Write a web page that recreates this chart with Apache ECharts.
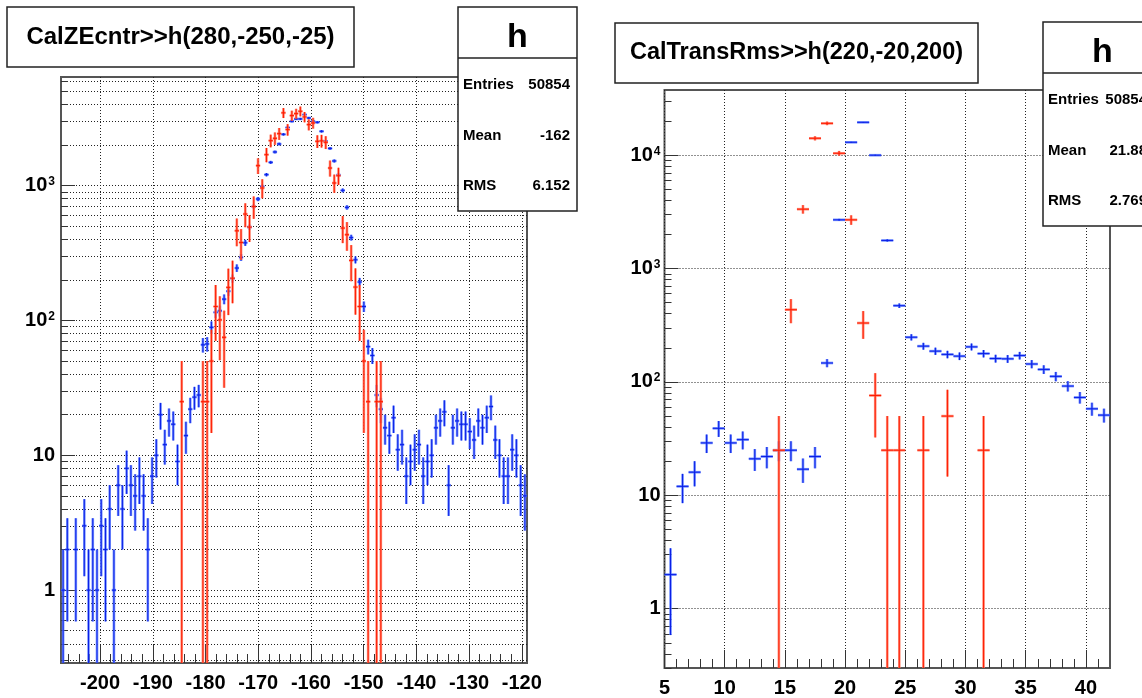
<!DOCTYPE html>
<html><head><meta charset="utf-8">
<script src="https://cdn.jsdelivr.net/npm/echarts@6/dist/echarts.min.js"></script>
<style>html,body{margin:0;padding:0;background:#fff}#c{width:1142px;height:698px}</style>
</head><body><div id="c"></div>
<script>
// ---------- data ----------
const leftBlueX = [-207.01,-206.21,-204.60,-202.99,-202.19,-201.38,-200.58,-199.78,-198.97,-198.17,-197.37,-196.56,-195.76,-194.96,-194.15,-193.35,-192.54,-191.74,-190.94,-190.13,-189.33,-188.53,-187.72,-186.92,-186.12,-185.31,-183.71,-182.90,-182.10,-181.29,-180.49,-179.69,-178.88,-178.08,-177.28,-176.47,-175.67,-174.87,-174.06,-173.26,-172.46,-171.65,-170.85,-170.04,-169.24,-168.44,-167.63,-166.83,-166.03,-165.22,-164.42,-163.62,-162.81,-162.01,-161.21,-160.40,-159.60,-158.79,-157.99,-157.19,-156.38,-155.58,-154.78,-153.97,-153.17,-152.37,-151.56,-150.76,-149.96,-149.15,-148.35,-147.54,-146.74,-145.94,-145.13,-144.33,-143.53,-142.72,-141.92,-141.12,-140.31,-139.51,-138.71,-137.90,-137.10,-136.29,-135.49,-134.69,-133.88,-133.08,-132.28,-131.47,-130.67,-129.87,-129.06,-128.26,-127.46,-126.65,-125.85,-125.04,-124.24,-123.44,-122.63,-121.83,-121.03,-120.22,-119.42];
const leftBlueY = [1,2,2,3,1,2,1,3,2,4,1,6,4,8,6,5,7,5,2,7,10,20,12,18,17,9,14,22,27,28,66,67,89,115,118,144,165,205,245,294,377,493,700,796,988,1207,1489,1778,2038,2404,2700,3006,3126,3126,3366,3178,3006,2953,2531,2134,1890,1525,1200,923,690,412,282,193,127,64,55,28,22,16,14,19,11,12,7,9,11,12,7,9,10,16,18,21,6,16,18,17,17,15,13,18,16,19,23,13,10,7,7,11,10,6,5];
const leftRedX = [-184.51,-180.49,-179.69,-178.88,-178.08,-177.28,-176.47,-175.67,-174.87,-174.06,-173.26,-172.46,-171.65,-170.85,-170.04,-169.24,-168.44,-167.63,-166.83,-166.03,-165.22,-164.42,-163.62,-162.81,-162.01,-161.21,-160.40,-159.60,-158.79,-157.99,-157.19,-156.38,-155.58,-154.78,-153.97,-153.17,-152.37,-151.56,-150.76,-149.96,-149.15,-147.54,-146.74];
const leftRedY = [25,25,25,50,127,101,75,176,206,463,379,616,493,700,1408,961,1698,2158,2245,2432,3470,2606,3311,3425,3565,3236,2838,2918,2134,2150,2099,1352,1047,1186,485,433,279,177,127,50,25,25,25];

const rightBlueX = [5.5,6.5,7.5,8.5,9.5,10.5,11.5,12.5,13.5,14.5,15.5,16.5,17.5,18.5,19.5,20.5,21.5,22.5,23.5,24.5,25.5,26.5,27.5,28.5,29.5,30.5,31.5,32.5,33.5,34.5,35.5,36.5,37.5,38.5,39.5,40.5,41.5];
const rightBlueY = [2,12,16,29,39,29,31,21,22,25,25,17,22,147,2692,13000,19500,10000,1771,471,248,207,187,175,169,204,178,161,160,171,144,129,112,92,73,58,51];
const rightRedX = [14.5,15.5,16.5,17.5,18.5,19.5,20.5,21.5,22.5,23.5,24.5,26.5,28.5,31.5];
const rightRedY = [25,434,3342,14100,19100,10400,2692,331,76,25,25,25,50,25];

const leftXTicks = [-200,-190,-180,-170,-160,-150,-140,-130,-120];
const rightXTicks = [5,10,15,20,25,30,35,40];
const leftYTicks = [1,10,100,1000];
const rightYTicks = [1,10,100,1000,10000];

const leftTitle = 'CalZEcntr>>h(280,-250,-25)';
const rightTitle = 'CalTransRms>>h(220,-20,200)';
const leftStats = [['Entries','50854'],['Mean','-162'],['RMS','6.152']];
const rightStats = [['Entries','50854'],['Mean','21.88'],['RMS','2.769']];

const BLUE_WEIGHT = 1, RED_WEIGHT = 25;
const LEFT_BIN = 225 / 280, RIGHT_BIN = 1;

// ---------- helpers ----------
const FONT = '"Liberation Sans", Arial, Helvetica, sans-serif';
function minorLinear(from, to, step, majors) {
  const out = [];
  for (let v = from; v <= to + 1e-9; v += step) {
    const r = Math.round(v * 1000) / 1000;
    if (majors.indexOf(r) < 0) out.push(r);
  }
  return out;
}
function minorLog(lo, hi) {
  const out = [];
  for (let d = 0.1; d <= hi; d *= 10) {
    for (let m = 2; m <= 9; m++) {
      const v = Math.round(m * d * 1000) / 1000;
      if (v >= lo && v <= hi) out.push(v);
    }
  }
  return out;
}
function powLabel(v) {
  const e = Math.round(Math.log10(v));
  if (e === 0) return '1';
  if (e === 1) return '10';
  return '10{sup|' + e + '}';
}
const dotted = { type: [1, 2], color: '#222', width: 1 };
const tickStyle = { color: '#333', width: 1 };

function xAxes(grid, min, max, majors, minors) {
  return [
    { gridIndex: grid, type: 'value', position: 'bottom', min, max,
      axisLine: { show: false },
      axisTick: { show: true, inside: true, length: 18, customValues: majors, lineStyle: tickStyle },
      axisLabel: { show: true, customValues: majors, fontSize: 20, fontWeight: 'bold', color: '#000', fontFamily: FONT, margin: 10 },
      splitLine: { show: true, lineStyle: dotted } },
    { gridIndex: grid, type: 'value', position: 'bottom', min, max,
      axisLine: { show: false },
      axisTick: { show: true, inside: true, length: 9, customValues: minors, lineStyle: tickStyle },
      axisLabel: { show: false },
      splitLine: { show: false } }
  ];
}
function yAxes(grid, min, max, majors, minors, minorGrid, margin) {
  return [
    { gridIndex: grid, type: 'log', logBase: 10, position: 'left', min, max,
      axisLine: { show: false },
      axisTick: { show: true, inside: true, length: 14, customValues: majors, lineStyle: tickStyle },
      axisLabel: { show: true, customValues: majors, formatter: powLabel, fontSize: 20, fontWeight: 'bold', color: '#000', fontFamily: FONT, margin,
        rich: { sup: { fontSize: 12, fontWeight: 'bold', color: '#000', fontFamily: FONT, verticalAlign: 'top', padding: [0, 0, 0, 1] } } },
      splitLine: { show: true, lineStyle: dotted } },
    { gridIndex: grid, type: 'log', logBase: 10, position: 'left', min, max,
      axisLine: { show: false },
      axisTick: { show: true, inside: true, length: 7, customValues: minors, lineStyle: tickStyle },
      axisLabel: { show: false },
      splitLine: { show: minorGrid, lineStyle: dotted } }
  ];
}

function errSeries(name, xs, ys, weight, binWidth, xi, yi, outer, inner) {
  return {
    type: 'custom', name, xAxisIndex: xi, yAxisIndex: yi, clip: true, silent: true,
    data: xs.map((x, i) => [x, ys[i]]),
    renderItem(params, api) {
      const x = api.value(0), y = api.value(1);
      if (!(y > 0)) return;
      const e = Math.sqrt(weight * y);
      const lo = y - e > 1e-4 ? y - e : 1e-4;
      const c = api.coord([x, y]);
      const l = api.coord([x - binWidth / 2, y]);
      const r = api.coord([x + binWidth / 2, y]);
      const t = api.coord([x, y + e]);
      const b = api.coord([x, lo]);
      const mk = (x1, y1, x2, y2, stroke, w) => ({ type: 'line', shape: { x1, y1, x2, y2 }, style: { stroke, lineWidth: w } });
      return { type: 'group', children: [
        mk(l[0], c[1], r[0], c[1], outer, 2.6), mk(c[0], t[1], c[0], b[1], outer, 2.6),
        mk(l[0], c[1], r[0], c[1], inner, 1), mk(c[0], t[1], c[0], b[1], inner, 1)
      ] };
    }
  };
}

function titleBox(x, y, w, h, text, size) {
  return [
    { type: 'rect', z: 100, shape: { x, y, width: w, height: h }, style: { fill: '#fff', stroke: '#222', lineWidth: 1.5 } },
    { type: 'text', z: 101, style: { x: x + w / 2, y: y + h / 2, text, fontSize: size, fontWeight: 'bold', fontFamily: FONT, fill: '#000', align: 'center', verticalAlign: 'middle' } }
  ];
}
function statsBox(x, y, w, rows, valueRight) {
  const els = [
    { type: 'rect', z: 100, shape: { x, y, width: w, height: 204 }, style: { fill: '#fff', stroke: '#222', lineWidth: 1.5 } },
    { type: 'line', z: 101, shape: { x1: x, y1: y + 51, x2: x + w, y2: y + 51 }, style: { stroke: '#222', lineWidth: 1.5 } },
    { type: 'text', z: 101, style: { x: x + 59.5, y: y + 31, text: 'h', fontSize: 34, fontWeight: 'bold', fontFamily: FONT, fill: '#000', align: 'center', verticalAlign: 'middle' } }
  ];
  rows.forEach((r, i) => {
    const yy = y + 78 + i * 50.6;
    els.push({ type: 'text', z: 101, style: { x: x + 5, y: yy, text: r[0], fontSize: 15, fontWeight: 'bold', fontFamily: FONT, fill: '#000', align: 'left', verticalAlign: 'middle' } });
    els.push({ type: 'text', z: 101, style: { x: valueRight, y: yy, text: r[1], fontSize: 15, fontWeight: 'bold', fontFamily: FONT, fill: '#000', align: 'right', verticalAlign: 'middle' } });
  });
  return els;
}

const LX = [-207.41, -119.02], LY = [0.288, 6400];
const RX = [5, 42], RY = [0.3, 37600];

const BLUE_OUT = 'rgba(90,125,255,0.85)', BLUE_IN = '#0a1ee6';
const RED_OUT = 'rgba(255,120,95,0.85)', RED_IN = '#ff1a00';

const option = {
  animation: false,
  backgroundColor: '#fff',
  grid: [
    { left: 61, top: 77, width: 466, height: 586, containLabel: false, show: true, borderColor: '#555', borderWidth: 2, backgroundColor: 'transparent' },
    { left: 664.5, top: 90, width: 445.5, height: 579, containLabel: false, show: true, borderColor: '#555', borderWidth: 2, backgroundColor: 'transparent' }
  ],
  xAxis: [].concat(
    xAxes(0, LX[0], LX[1], leftXTicks, minorLinear(-206, -120, 2, leftXTicks)),
    xAxes(1, RX[0], RX[1], rightXTicks, minorLinear(6, 41, 1, rightXTicks))
  ),
  yAxis: [].concat(
    yAxes(0, LY[0], LY[1], leftYTicks, minorLog(LY[0], LY[1]), true, 6),
    yAxes(1, RY[0], RY[1], rightYTicks, minorLog(RY[0], RY[1]), false, 4)
  ),
  series: [
    errSeries('left blue', leftBlueX, leftBlueY, BLUE_WEIGHT, LEFT_BIN, 0, 0, BLUE_OUT, BLUE_IN),
    errSeries('left red', leftRedX, leftRedY, RED_WEIGHT, LEFT_BIN, 0, 0, RED_OUT, RED_IN),
    errSeries('right blue', rightBlueX, rightBlueY, BLUE_WEIGHT, RIGHT_BIN, 2, 2, BLUE_OUT, BLUE_IN),
    errSeries('right red', rightRedX, rightRedY, RED_WEIGHT, RIGHT_BIN, 2, 2, RED_OUT, RED_IN)
  ],
  graphic: { elements: [].concat(
    titleBox(7, 7, 347, 60, leftTitle, 24),
    titleBox(615, 23, 363, 60, rightTitle, 23.5),
    statsBox(458, 7, 119, leftStats, 570),
    statsBox(1043, 22, 119, rightStats, 1147)
  ) }
};
const chart = echarts.init(document.getElementById('c'), null, { renderer: 'canvas' });
chart.setOption(option);
</script></body></html>
